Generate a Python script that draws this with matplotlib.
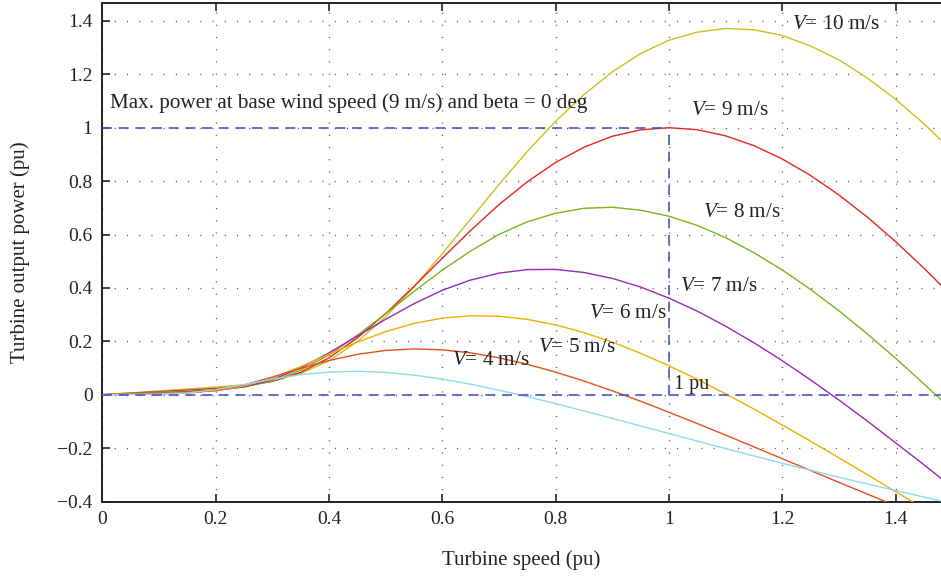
import matplotlib
matplotlib.use("Agg")
import matplotlib.pyplot as plt

# turbine speed (pu) and output power (pu)
speed = [0, 0.05, 0.10, 0.15, 0.20, 0.25, 0.30, 0.35, 0.40, 0.45, 0.50, 0.55, 0.60, 0.65, 0.70,
         0.75, 0.80, 0.85, 0.90, 0.95, 1.00, 1.05, 1.10, 1.15, 1.20, 1.25, 1.30, 1.35, 1.40, 1.45, 1.48]

p4 = [0, 0.0011, 0.0024, 0.0064, 0.0187, 0.0379, 0.0583, 0.0751, 0.0850, 0.0877, 0.0836, 0.0735,
      0.0584, 0.0393, 0.0170, -0.0074, -0.0336, -0.0608, -0.0887, -0.1170, -0.1454, -0.1737,
      -0.2018, -0.2292, -0.2566, -0.2829, -0.3092, -0.3342, -0.3587, -0.3831, -0.3978]
p5 = [0, 0.0018, 0.0036, 0.0065, 0.0159, 0.0365, 0.0661, 0.0984, 0.1280, 0.1512, 0.1659, 0.1714,
      0.1682, 0.1567, 0.1382, 0.1140, 0.0846, 0.0512, 0.0146, -0.0245, -0.0657, -0.1080,
      -0.1513, -0.1954, -0.2397, -0.2840, -0.3283, -0.3722, -0.4155, -0.4583, -0.4840]
p6 = [0, 0.0025, 0.0051, 0.0080, 0.0148, 0.0322, 0.0630, 0.1051, 0.1515, 0.1968, 0.2363, 0.2669,
      0.2868, 0.2957, 0.2940, 0.2820, 0.2616, 0.2324, 0.1971, 0.1551, 0.1084, 0.0575,
      0.0032, -0.0537, -0.1136, -0.1742, -0.2365, -0.2995, -0.3630, -0.4269, -0.4653]
p7 = [0, 0.0035, 0.0070, 0.0105, 0.0160, 0.0291, 0.0566, 0.1001, 0.1567, 0.2193, 0.2825, 0.3408,
      0.3912, 0.4295, 0.4554, 0.4686, 0.4693, 0.4577, 0.4357, 0.4033, 0.3617, 0.3129,
      0.2564, 0.1945, 0.1271, 0.0552, -0.0201, -0.0987, -0.1803, -0.2624, -0.3134]
p8 = [0, 0.0045, 0.0091, 0.0136, 0.0190, 0.0292, 0.0515, 0.0913, 0.1494, 0.2224, 0.3033, 0.3868,
      0.4665, 0.5380, 0.6005, 0.6475, 0.6797, 0.6981, 0.7020, 0.6911, 0.6685, 0.6339,
      0.5881, 0.5317, 0.4671, 0.3940, 0.3142, 0.2275, 0.1362, 0.0404, -0.0186]
p9 = [0, 0.0057, 0.0115, 0.0172, 0.0233, 0.0321, 0.0498, 0.0836, 0.1381, 0.2127, 0.3039, 0.4056,
      0.5114, 0.6151, 0.7119, 0.7975, 0.8699, 0.9270, 0.9678, 0.9920, 1.0, 0.9924,
      0.9695, 0.9326, 0.8828, 0.8208, 0.7479, 0.6651, 0.5733, 0.4736, 0.4103]
p10 = [0, 0.0071, 0.0142, 0.0213, 0.0285, 0.0371, 0.0517, 0.0795, 0.1272, 0.1984, 0.2918, 0.4036,
       0.5285, 0.6579, 0.7873, 0.9111, 1.0241, 1.1237, 1.2093, 1.2779, 1.3276, 1.3580,
       1.3715, 1.3667, 1.3454, 1.3056, 1.2539, 1.1863, 1.1059, 1.0145, 0.9532]

curves = [p10, p9, p8, p7, p6, p5, p4]
colors = ['#c9c21a', '#e8261e', '#7ab51d', '#9b27b8', '#f2ae00', '#e4501a', '#8fdbe8']

# curve labels: text, x, y
labels = [r'$V$= 10 m/s', r'$V$= 9 m/s', r'$V$= 8 m/s', r'$V$= 7 m/s',
          r'$V$= 6 m/s', r'$V$= 5 m/s', r'$V$= 4 m/s']
label_x = [1.217, 1.039, 1.060, 1.019, 0.859, 0.769, 0.617]
label_y = [1.387, 1.066, 0.682, 0.405, 0.305, 0.178, 0.129]

# reference lines: max power point at base wind speed
base_speed = 1.0
base_power = 1.0

plt.rcParams['font.family'] = 'Liberation Serif'
plt.rcParams['mathtext.fontset'] = 'custom'
plt.rcParams['mathtext.rm'] = 'Liberation Serif'
plt.rcParams['mathtext.it'] = 'Liberation Serif:italic'
plt.rcParams['font.size'] = 14

fig = plt.figure(figsize=(9.41, 5.76), dpi=100)
ax = fig.add_axes([0.1087, 0.1293, 0.8913, 0.8655])

for p, c in zip(curves, colors):
    ax.plot(speed, p, color=c, lw=1.0, zorder=3)

dash = dict(color='#4b55c4', lw=1.2, dashes=(6, 4), zorder=4)
ax.plot([0, base_speed], [base_power, base_power], **dash)
ax.plot([base_speed, base_speed], [0, base_power], **dash)
ax.axhline(0, **dash)

for t, x, y in zip(labels, label_x, label_y):
    ax.text(x, y, t, ha='left', va='center', fontsize=15.2, color='#222222')
ax.text(0.014, 1.092, 'Max. power at base wind speed (9 m/s) and beta = 0 deg',
        ha='left', va='center', fontsize=15.2, color='#222222')
ax.text(1.008, 0.04, '1 pu', ha='left', va='center', fontsize=14.5, color='#222222')

ax.set_xlim(0, 1.48)
ax.set_ylim(-0.4, 1.467)
ax.set_xticks([0, 0.2, 0.4, 0.6, 0.8, 1.0, 1.2, 1.4])
ax.set_xticklabels(['0', '0.2', '0.4', '0.6', '0.8', '1', '1.2', '1.4'])
ax.set_yticks([-0.4, -0.2, 0, 0.2, 0.4, 0.6, 0.8, 1.0, 1.2, 1.4])
ax.set_yticklabels(['\u22120.4', '\u22120.2', '0', '0.2', '0.4', '0.6', '0.8', '1', '1.2', '1.4'])
ax.tick_params(direction='in', length=6, width=1.2, top=True, right=False,
               labelsize=14, pad=7, colors='#222222')

ax.grid(True, color='#555555', linestyle=(0, (0.8, 8)), lw=1.0)
ax.spines['right'].set_visible(False)
for s in ['left', 'bottom', 'top']:
    ax.spines[s].set_linewidth(1.4)
    ax.spines[s].set_color('#222222')

ax.set_xlabel('Turbine speed (pu)', fontsize=15, color='#222222')
ax.set_ylabel('Turbine output power (pu)', fontsize=15, color='#222222')
ax.xaxis.set_label_coords(0.5, -0.097)
ax.yaxis.set_label_coords(-0.086, 0.5)

fig.savefig('out.png', dpi=100)
